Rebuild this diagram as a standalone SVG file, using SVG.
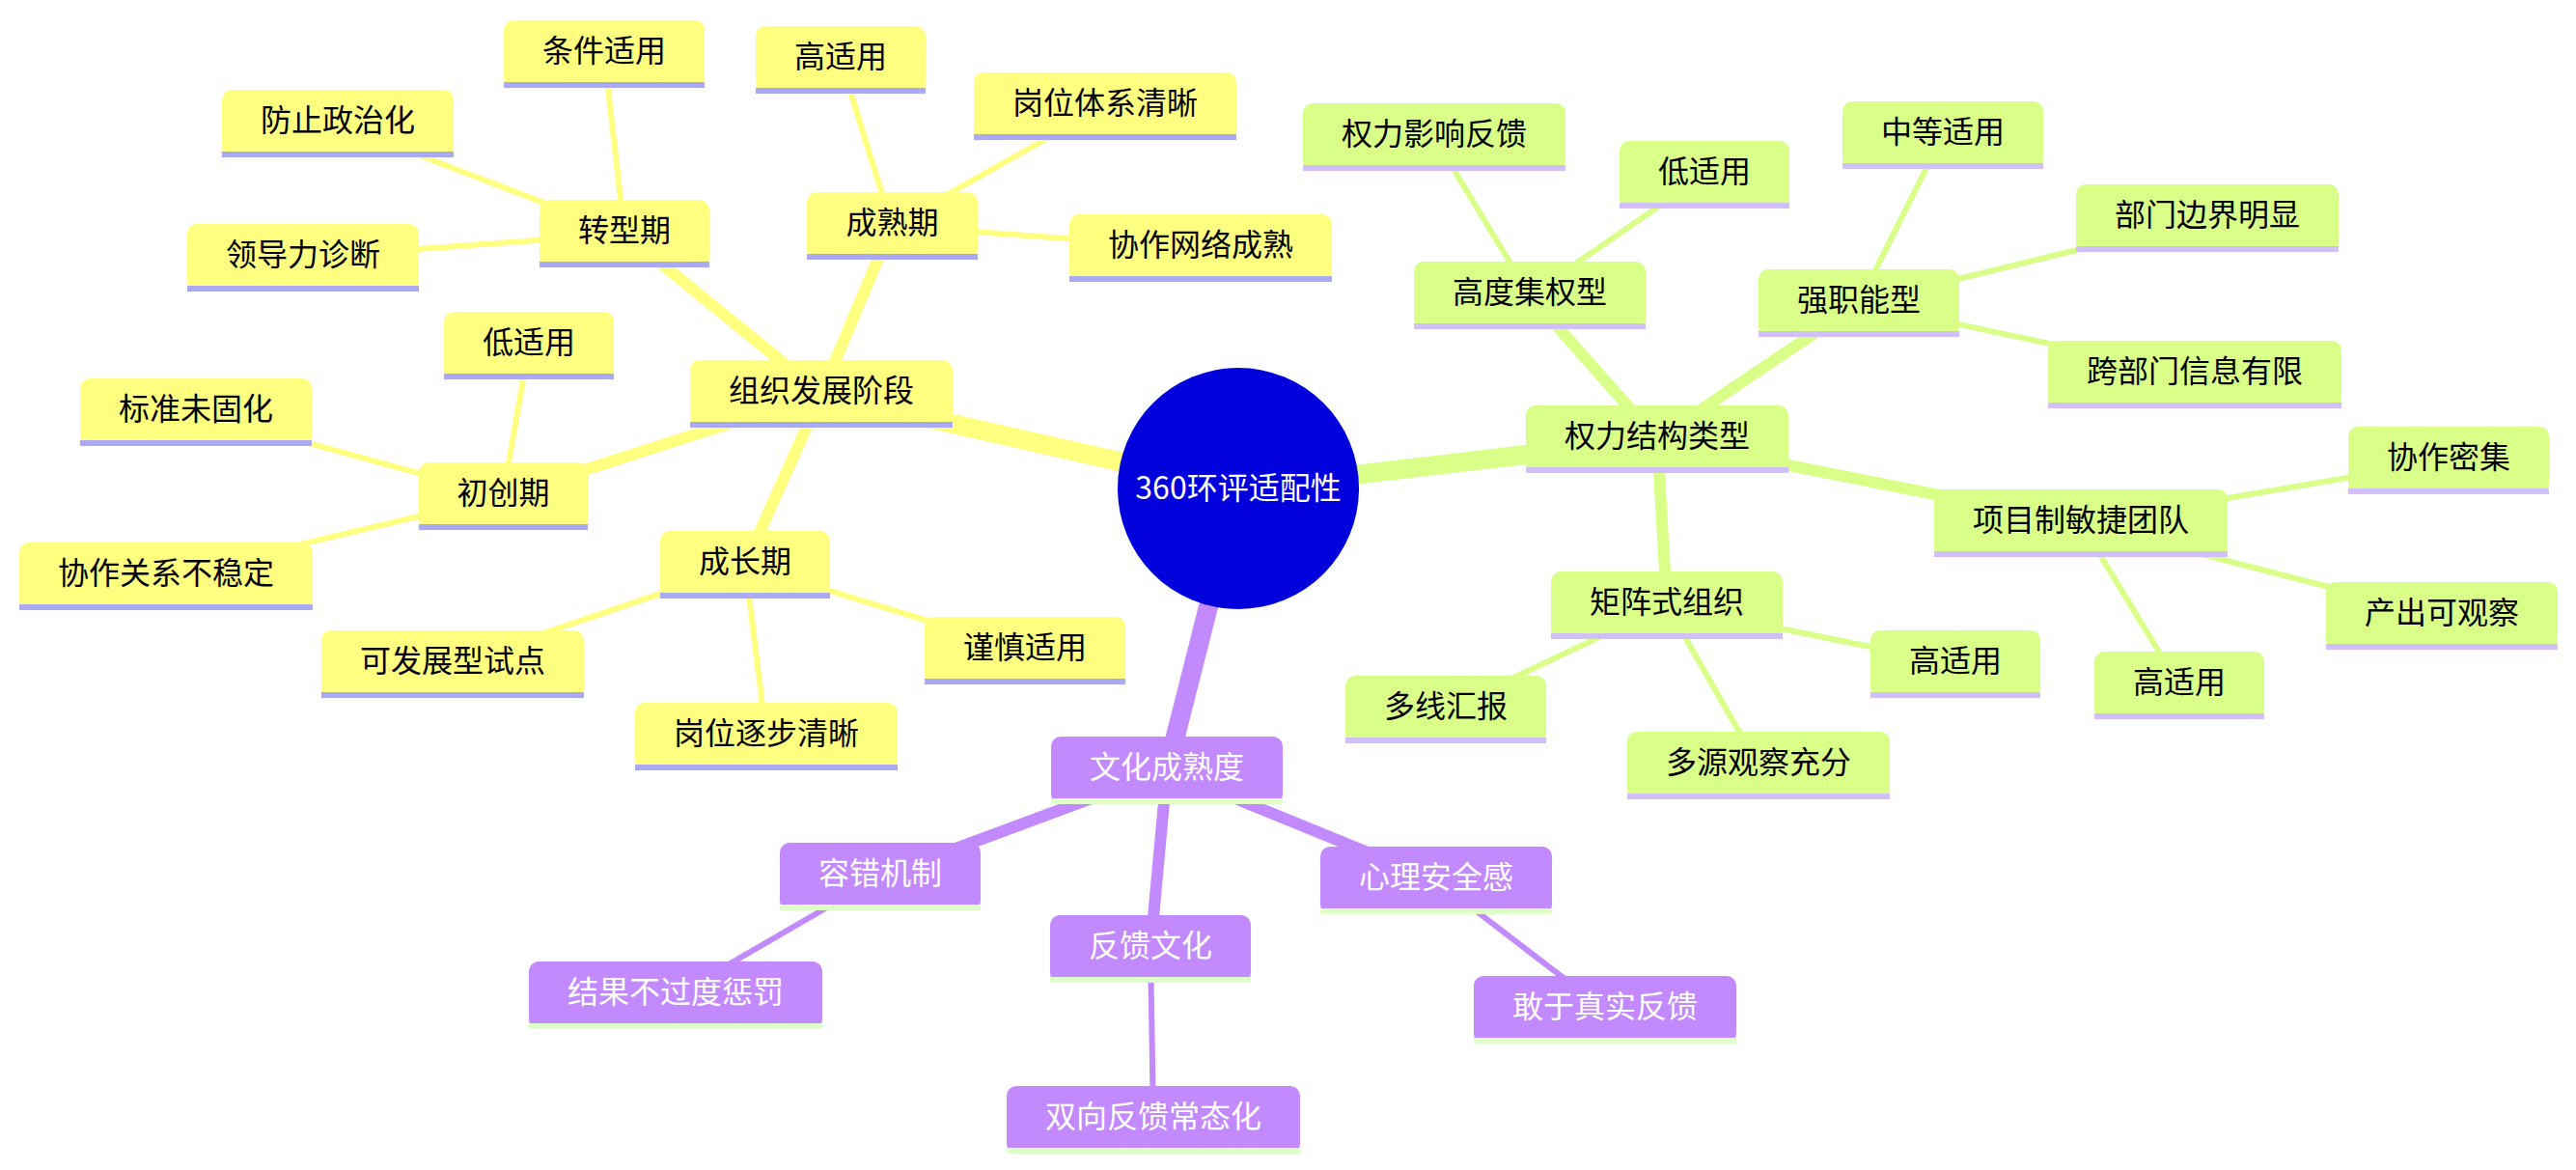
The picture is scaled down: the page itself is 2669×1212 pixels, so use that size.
<svg xmlns="http://www.w3.org/2000/svg" width="2669" height="1212" viewBox="0 0 2669 1212">
<style>
text{font-family:"Noto Sans CJK SC","Noto Sans",sans-serif;font-size:32px;text-anchor:middle}
.y .b{fill:#ffff80}.y .u{fill:#aaaaf2}.y text{fill:#000}
.g .b{fill:#d9ff88}.g .u{fill:#d2bff8}.g text{fill:#000}
.p .b{fill:#c389ff}.p .u{fill:#dfffc8}.p text{fill:#fff}
.ly{stroke:#ffff80;fill:none;stroke-linecap:butt}
.lg{stroke:#d9ff88;fill:none}
.lp{stroke:#c389ff;fill:none}
.l1{stroke-width:20}.l2{stroke-width:12}.l3{stroke-width:6}
</style>
<rect width="2669" height="1212" fill="#fff"/>
<g id="connectors">
<line class="ly l1" x1="1283" y1="506" x2="851" y2="408"/>
<line class="lg l1" x1="1283" y1="506" x2="1717" y2="455"/>
<line class="lp l1" x1="1283" y1="506" x2="1209" y2="798"/>
<line class="ly l2" x1="851" y1="408" x2="647" y2="242"/>
<line class="ly l2" x1="851" y1="408" x2="924" y2="234"/>
<line class="ly l2" x1="851" y1="408" x2="521" y2="514"/>
<line class="ly l2" x1="851" y1="408" x2="772" y2="585"/>
<line class="ly l3" x1="647" y1="242" x2="626" y2="56"/>
<line class="ly l3" x1="647" y1="242" x2="349" y2="128"/>
<line class="ly l3" x1="647" y1="242" x2="314" y2="267"/>
<line class="ly l3" x1="924" y1="234" x2="871" y2="62"/>
<line class="ly l3" x1="924" y1="234" x2="1144" y2="110"/>
<line class="ly l3" x1="924" y1="234" x2="1244" y2="257"/>
<line class="ly l3" x1="521" y1="514" x2="548" y2="358"/>
<line class="ly l3" x1="521" y1="514" x2="203" y2="427"/>
<line class="ly l3" x1="521" y1="514" x2="172" y2="597"/>
<line class="ly l3" x1="772" y1="585" x2="469" y2="688"/>
<line class="ly l3" x1="772" y1="585" x2="1062" y2="674"/>
<line class="ly l3" x1="772" y1="585" x2="794" y2="763"/>
<line class="lg l2" x1="1717" y1="455" x2="1585" y2="306"/>
<line class="lg l2" x1="1717" y1="455" x2="1926" y2="314"/>
<line class="lg l2" x1="1717" y1="455" x2="1727" y2="627"/>
<line class="lg l2" x1="1717" y1="455" x2="2156" y2="542"/>
<line class="lg l3" x1="1585" y1="306" x2="1486" y2="142"/>
<line class="lg l3" x1="1585" y1="306" x2="1766" y2="181"/>
<line class="lg l3" x1="1926" y1="314" x2="2013" y2="140"/>
<line class="lg l3" x1="1926" y1="314" x2="2287" y2="226"/>
<line class="lg l3" x1="1926" y1="314" x2="2274" y2="388"/>
<line class="lg l3" x1="2156" y1="542" x2="2537" y2="477"/>
<line class="lg l3" x1="2156" y1="542" x2="2530" y2="638"/>
<line class="lg l3" x1="2156" y1="542" x2="2258" y2="710"/>
<line class="lg l3" x1="1727" y1="627" x2="1498" y2="735"/>
<line class="lg l3" x1="1727" y1="627" x2="1822" y2="793"/>
<line class="lg l3" x1="1727" y1="627" x2="2026" y2="688"/>
<line class="lp l2" x1="1209" y1="798" x2="912" y2="908"/>
<line class="lp l2" x1="1209" y1="798" x2="1192" y2="983"/>
<line class="lp l2" x1="1209" y1="798" x2="1488" y2="912"/>
<line class="lp l3" x1="912" y1="908" x2="700" y2="1031"/>
<line class="lp l3" x1="1192" y1="983" x2="1195" y2="1160"/>
<line class="lp l3" x1="1488" y1="912" x2="1663" y2="1046"/>
</g>
<g id="root"><circle cx="1283" cy="506" r="125" fill="#0000dd"/><text x="1283" y="517" fill="#fff">360环评适配性</text></g>
<g id="n-zuzhi" class="y" transform="translate(715,373)"><rect class="b" width="272" height="70" rx="10"/><rect class="u" y="64" width="272" height="6"/><text x="136" y="43">组织发展阶段</text></g>
<g id="n-zhuanxing" class="y" transform="translate(559,207)"><rect class="b" width="176" height="70" rx="10"/><rect class="u" y="64" width="176" height="6"/><text x="88" y="43">转型期</text></g>
<g id="n-tiaojian" class="y" transform="translate(522,21)"><rect class="b" width="208" height="70" rx="10"/><rect class="u" y="64" width="208" height="6"/><text x="104" y="43">条件适用</text></g>
<g id="n-fangzhi" class="y" transform="translate(230,93)"><rect class="b" width="240" height="70" rx="10"/><rect class="u" y="64" width="240" height="6"/><text x="120" y="43">防止政治化</text></g>
<g id="n-lingdao" class="y" transform="translate(194,232)"><rect class="b" width="240" height="70" rx="10"/><rect class="u" y="64" width="240" height="6"/><text x="120" y="43">领导力诊断</text></g>
<g id="n-chengshu" class="y" transform="translate(836,199)"><rect class="b" width="177" height="70" rx="10"/><rect class="u" y="64" width="177" height="6"/><text x="88.5" y="43">成熟期</text></g>
<g id="n-gao1" class="y" transform="translate(783,27)"><rect class="b" width="176" height="70" rx="10"/><rect class="u" y="64" width="176" height="6"/><text x="88" y="43">高适用</text></g>
<g id="n-gangwei1" class="y" transform="translate(1009,75)"><rect class="b" width="272" height="70" rx="10"/><rect class="u" y="64" width="272" height="6"/><text x="136" y="43">岗位体系清晰</text></g>
<g id="n-xiezuo1" class="y" transform="translate(1108,222)"><rect class="b" width="272" height="70" rx="10"/><rect class="u" y="64" width="272" height="6"/><text x="136" y="43">协作网络成熟</text></g>
<g id="n-chuchuang" class="y" transform="translate(434,479)"><rect class="b" width="175" height="70" rx="10"/><rect class="u" y="64" width="175" height="6"/><text x="87.5" y="43">初创期</text></g>
<g id="n-di1" class="y" transform="translate(460,323)"><rect class="b" width="176" height="70" rx="10"/><rect class="u" y="64" width="176" height="6"/><text x="88" y="43">低适用</text></g>
<g id="n-biaozhun" class="y" transform="translate(83,392)"><rect class="b" width="240" height="70" rx="10"/><rect class="u" y="64" width="240" height="6"/><text x="120" y="43">标准未固化</text></g>
<g id="n-xiezuo2" class="y" transform="translate(20,562)"><rect class="b" width="304" height="70" rx="10"/><rect class="u" y="64" width="304" height="6"/><text x="152" y="43">协作关系不稳定</text></g>
<g id="n-chengzhang" class="y" transform="translate(684,550)"><rect class="b" width="176" height="70" rx="10"/><rect class="u" y="64" width="176" height="6"/><text x="88" y="43">成长期</text></g>
<g id="n-kefazhan" class="y" transform="translate(333,653)"><rect class="b" width="272" height="70" rx="10"/><rect class="u" y="64" width="272" height="6"/><text x="136" y="43">可发展型试点</text></g>
<g id="n-jinshen" class="y" transform="translate(958,639)"><rect class="b" width="208" height="70" rx="10"/><rect class="u" y="64" width="208" height="6"/><text x="104" y="43">谨慎适用</text></g>
<g id="n-gangwei2" class="y" transform="translate(658,728)"><rect class="b" width="272" height="70" rx="10"/><rect class="u" y="64" width="272" height="6"/><text x="136" y="43">岗位逐步清晰</text></g>
<g id="n-quanli" class="g" transform="translate(1581,420)"><rect class="b" width="272" height="70" rx="10"/><rect class="u" y="64" width="272" height="6"/><text x="136" y="43">权力结构类型</text></g>
<g id="n-gaodu" class="g" transform="translate(1465,271)"><rect class="b" width="240" height="70" rx="10"/><rect class="u" y="64" width="240" height="6"/><text x="120" y="43">高度集权型</text></g>
<g id="n-yingxiang" class="g" transform="translate(1350,107)"><rect class="b" width="272" height="70" rx="10"/><rect class="u" y="64" width="272" height="6"/><text x="136" y="43">权力影响反馈</text></g>
<g id="n-di2" class="g" transform="translate(1678,146)"><rect class="b" width="176" height="70" rx="10"/><rect class="u" y="64" width="176" height="6"/><text x="88" y="43">低适用</text></g>
<g id="n-qiang" class="g" transform="translate(1822,279)"><rect class="b" width="208" height="70" rx="10"/><rect class="u" y="64" width="208" height="6"/><text x="104" y="43">强职能型</text></g>
<g id="n-zhongdeng" class="g" transform="translate(1909,105)"><rect class="b" width="208" height="70" rx="10"/><rect class="u" y="64" width="208" height="6"/><text x="104" y="43">中等适用</text></g>
<g id="n-bumen" class="g" transform="translate(2151,191)"><rect class="b" width="272" height="70" rx="10"/><rect class="u" y="64" width="272" height="6"/><text x="136" y="43">部门边界明显</text></g>
<g id="n-kuabumen" class="g" transform="translate(2122,353)"><rect class="b" width="304" height="70" rx="10"/><rect class="u" y="64" width="304" height="6"/><text x="152" y="43">跨部门信息有限</text></g>
<g id="n-xiangmu" class="g" transform="translate(2004,507)"><rect class="b" width="304" height="70" rx="10"/><rect class="u" y="64" width="304" height="6"/><text x="152" y="43">项目制敏捷团队</text></g>
<g id="n-mijii" class="g" transform="translate(2433,442)"><rect class="b" width="208" height="70" rx="10"/><rect class="u" y="64" width="208" height="6"/><text x="104" y="43">协作密集</text></g>
<g id="n-chanchu" class="g" transform="translate(2410,603)"><rect class="b" width="240" height="70" rx="10"/><rect class="u" y="64" width="240" height="6"/><text x="120" y="43">产出可观察</text></g>
<g id="n-gao3" class="g" transform="translate(2170,675)"><rect class="b" width="176" height="70" rx="10"/><rect class="u" y="64" width="176" height="6"/><text x="88" y="43">高适用</text></g>
<g id="n-juzhen" class="g" transform="translate(1607,592)"><rect class="b" width="240" height="70" rx="10"/><rect class="u" y="64" width="240" height="6"/><text x="120" y="43">矩阵式组织</text></g>
<g id="n-gao2" class="g" transform="translate(1938,653)"><rect class="b" width="176" height="70" rx="10"/><rect class="u" y="64" width="176" height="6"/><text x="88" y="43">高适用</text></g>
<g id="n-duoxian" class="g" transform="translate(1394,700)"><rect class="b" width="208" height="70" rx="10"/><rect class="u" y="64" width="208" height="6"/><text x="104" y="43">多线汇报</text></g>
<g id="n-duoyuan" class="g" transform="translate(1686,758)"><rect class="b" width="272" height="70" rx="10"/><rect class="u" y="64" width="272" height="6"/><text x="136" y="43">多源观察充分</text></g>
<g id="n-wenhua" class="p" transform="translate(1089,763)"><rect class="b" width="240" height="70" rx="10"/><rect class="u" y="64" width="240" height="6"/><text x="120" y="43">文化成熟度</text></g>
<g id="n-rongcuo" class="p" transform="translate(808,873)"><rect class="b" width="208" height="70" rx="10"/><rect class="u" y="64" width="208" height="6"/><text x="104" y="43">容错机制</text></g>
<g id="n-jieguo" class="p" transform="translate(548,996)"><rect class="b" width="304" height="70" rx="10"/><rect class="u" y="64" width="304" height="6"/><text x="152" y="43">结果不过度惩罚</text></g>
<g id="n-fankui" class="p" transform="translate(1088,948)"><rect class="b" width="208" height="70" rx="10"/><rect class="u" y="64" width="208" height="6"/><text x="104" y="43">反馈文化</text></g>
<g id="n-shuangxiang" class="p" transform="translate(1043,1125)"><rect class="b" width="304" height="70" rx="10"/><rect class="u" y="64" width="304" height="6"/><text x="152" y="43">双向反馈常态化</text></g>
<g id="n-xinli" class="p" transform="translate(1368,877)"><rect class="b" width="240" height="70" rx="10"/><rect class="u" y="64" width="240" height="6"/><text x="120" y="43">心理安全感</text></g>
<g id="n-ganyu" class="p" transform="translate(1527,1011)"><rect class="b" width="272" height="70" rx="10"/><rect class="u" y="64" width="272" height="6"/><text x="136" y="43">敢于真实反馈</text></g>
</svg>
